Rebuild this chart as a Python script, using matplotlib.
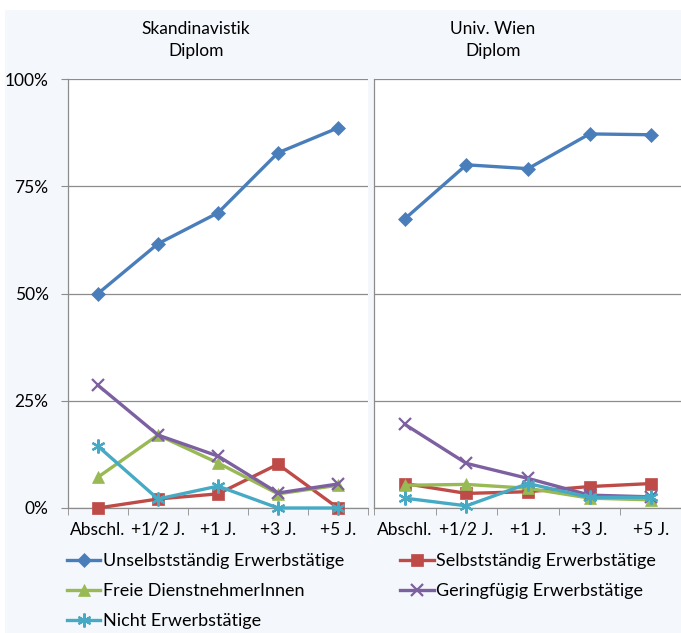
import matplotlib
matplotlib.use("Agg")
import matplotlib.pyplot as plt
from matplotlib.patches import Rectangle
from matplotlib.ticker import FixedLocator, PercentFormatter

plt.rcParams["font.family"] = ["Lato", "DejaVu Sans"]
plt.rcParams["font.size"] = 12.5

categories = ["Abschl.", "+1/2 J.", "+1 J.", "+3 J.", "+5 J."]
panel_titles = ["Skandinavistik\nDiplom", "Univ. Wien\nDiplom"]
series_names = [
    "Unselbstständig Erwerbstätige",
    "Selbstständig Erwerbstätige",
    "Freie DienstnehmerInnen",
    "Geringfügig Erwerbstätige",
    "Nicht Erwerbstätige",
]

# values in percent
skand_unselb = [50.0, 61.6, 68.8, 82.8, 88.6]
skand_selb = [0.0, 2.1, 3.3, 10.2, 0.0]
skand_freie = [7.2, 17.0, 10.5, 3.3, 5.3]
skand_gering = [28.6, 17.0, 12.1, 3.5, 5.6]
skand_nicht = [14.4, 2.1, 5.1, 0.0, 0.0]

wien_unselb = [67.4, 80.0, 79.1, 87.2, 87.0]
wien_selb = [5.7, 3.4, 3.8, 5.0, 5.7]
wien_freie = [5.3, 5.5, 4.6, 2.3, 1.9]
wien_gering = [19.5, 10.4, 6.9, 3.0, 2.6]
wien_nicht = [2.3, 0.5, 5.7, 2.5, 2.5]

colors = ["#4A7EBB", "#BE4B48", "#98B954", "#7D60A0", "#46AAC5"]
markers = ["D", "s", "^", "x", (6, 2, 0)]
msizes = [7, 8, 9, 9, 10]

W, H = 681, 633
fig = plt.figure(figsize=(W / 100, H / 100), dpi=100, facecolor="white")
fig.patches.append(Rectangle((5 / W, 0), 1, 1 - 10 / H, transform=fig.transFigure,
                             facecolor="#F4F7FC", edgecolor="none", zorder=-10))

panels = [
    [skand_unselb, skand_selb, skand_freie, skand_gering, skand_nicht],
    [wien_unselb, wien_selb, wien_freie, wien_gering, wien_nicht],
]
boxes = [(68, 368), (374, 682)]
title_x = [196, 493]
top, bottom = 79, 508

handles = []
for i, (data, (x0, x1)) in enumerate(zip(panels, boxes)):
    ax = fig.add_axes([x0 / W, (H - bottom) / H, (x1 - x0) / W, (bottom - top) / H])
    ax.set_facecolor("white")
    x = range(len(categories))
    for k, vals in enumerate(data):
        (ln,) = ax.plot(x, vals, color=colors[k], lw=2.4, marker=markers[k],
                        ms=msizes[k], mew=1.6 if k >= 3 else 0.5,
                        mec=colors[k], clip_on=False, zorder=3)
        if i == 0:
            handles.append(ln)
    ax.set_xlim(-0.5, len(categories) - 0.5)
    ax.set_ylim(0, 100)
    ax.set_yticks([0, 25, 50, 75, 100])
    ax.yaxis.set_major_formatter(PercentFormatter(decimals=0))
    ax.grid(axis="y", color="#8C8C8C", lw=0.9)
    ax.set_axisbelow(True)
    for s in ["top", "right"]:
        ax.spines[s].set_visible(False)
    for s in ["left", "bottom"]:
        ax.spines[s].set_color("#8C8C8C")
        ax.spines[s].set_linewidth(0.9)
    ax.set_xticks(list(x))
    ax.set_xticklabels(categories)
    ax.xaxis.set_minor_locator(FixedLocator([k - 0.5 for k in range(len(categories) + 1)]))
    ax.tick_params(axis="x", which="major", length=0, pad=10)
    ax.tick_params(axis="x", which="minor", length=5, color="#8C8C8C", direction="out")
    if i == 0:
        ax.tick_params(axis="y", length=5, color="#8C8C8C", pad=9)
    else:
        ax.tick_params(axis="y", length=0, labelleft=False)
    fig.text(title_x[i] / W, 1 - 40 / H, panel_titles[i], ha="center", va="center",
             linespacing=1.5)

order = [0, 2, 4, 1, 3]
fig.legend([handles[k] for k in order], [series_names[k] for k in order],
           ncol=2, frameon=False, loc="upper left", fontsize=13,
           bbox_to_anchor=(67 / W, 1 - 553 / H), handlelength=1.85,
           handletextpad=0.15, columnspacing=3.1, labelspacing=0.78,
           borderaxespad=0, borderpad=0)

fig.savefig("out.png", dpi=100, facecolor=fig.get_facecolor())
